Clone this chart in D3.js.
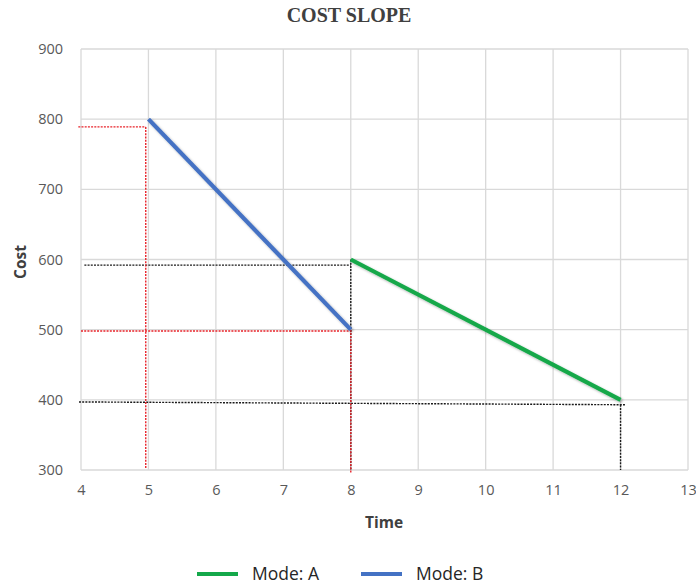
<!DOCTYPE html>
<html><head><meta charset="utf-8">
<script src="https://cdn.jsdelivr.net/npm/d3@7"></script>
<style>body{margin:0;background:#fff}svg{display:block}</style>
</head><body><svg id="c" width="696" height="588"></svg>
<script>
const xTicks = [4,5,6,7,8,9,10,11,12,13];
const yTicks = [300,400,500,600,700,800,900];
const modeATime = [8, 12];
const modeACost = [600, 400];
const modeBTime = [5, 8];
const modeBCost = [800, 500];
// guide segments: [x1, y1, x2, y2]
const redGuides = [[3.96,789,4.96,789],[4.96,789,4.96,303],[4,498,8,498],[8,500,8,295]];
const blackGuides = [[4.05,592,8,592],[8,600,8,300],[3.97,397,12.07,393],[12,393,12,300]];
const seriesNames = ["Mode: A","Mode: B"];
const seriesColors = ["#14a84a","#4472c4"];

const svg = d3.select("#c");
const x = d3.scaleLinear().domain([4,13]).range([81,688]);
const y = d3.scaleLinear().domain([300,900]).range([470,49]);
const font = "'Open Sans', 'Noto Sans', sans-serif";

// gridlines
svg.append("g").selectAll("line").data(xTicks).join("line")
  .attr("x1",d=>x(d)).attr("x2",d=>x(d)).attr("y1",y(300)).attr("y2",y(900))
  .attr("stroke","#d9d9d9").attr("stroke-width",1.3);
svg.append("g").selectAll("line").data(yTicks).join("line")
  .attr("x1",x(4)).attr("x2",x(13)).attr("y1",d=>y(d)).attr("y2",d=>y(d))
  .attr("stroke","#d9d9d9").attr("stroke-width",1.3);

// axes tick labels
const xa = svg.append("g").attr("transform",`translate(0,${y(300)})`)
  .call(d3.axisBottom(x).tickValues(xTicks).tickSize(0).tickPadding(15).tickFormat(d3.format("d")));
const ya = svg.append("g").attr("transform",`translate(${x(4)},0)`)
  .call(d3.axisLeft(y).tickValues(yTicks).tickSize(0).tickPadding(18).tickFormat(d3.format("d")));
[xa,ya].forEach(a=>{a.select(".domain").remove();
  a.selectAll("text").attr("font-family",font).attr("font-size",14.5).attr("fill","#595959");});

// guides
function guides(data,color){
  svg.append("g").selectAll("line").data(data).join("line")
    .attr("x1",d=>x(d[0])).attr("y1",d=>y(d[1])).attr("x2",d=>x(d[2])).attr("y2",d=>y(d[3]))
    .attr("stroke",color).attr("stroke-width",1.4).attr("stroke-dasharray","2,1.2");
}
guides(blackGuides,"#1a1a1a");
guides(redGuides,"#e8232a");

// shadow filter
const defs = svg.append("defs");
const f = defs.append("filter").attr("id","sh").attr("x","-20%").attr("y","-20%").attr("width","140%").attr("height","140%");
f.append("feDropShadow").attr("dx",1.5).attr("dy",1.5).attr("stdDeviation",1.2).attr("flood-color","#000").attr("flood-opacity",0.3);

const line = d3.line().x(d=>x(d[0])).y(d=>y(d[1]));
const series = [d3.zip(modeATime,modeACost), d3.zip(modeBTime,modeBCost)];
series.forEach((s,i)=>{
  svg.append("path").datum(s).attr("d",line).attr("fill","none")
    .attr("stroke",seriesColors[i]).attr("stroke-width",4.2).attr("filter","url(#sh)");
});

// title
svg.append("text").attr("x",349).attr("y",22).attr("text-anchor","middle")
  .attr("font-family","'Liberation Serif','DejaVu Serif',serif").attr("font-weight","bold")
  .attr("font-size",20).attr("fill","#404040").text("COST SLOPE");
// axis titles
svg.append("text").attr("transform","translate(26,262) rotate(-90)").attr("text-anchor","middle")
  .attr("font-family",font).attr("font-weight","bold").attr("font-size",15.5).attr("fill","#404040").text("Cost");
svg.append("text").attr("x",384).attr("y",528).attr("text-anchor","middle")
  .attr("font-family",font).attr("font-weight","bold").attr("font-size",15.5).attr("fill","#404040").text("Time");

// legend
const lg = svg.append("g");
const lx = [197,361];
seriesNames.forEach((n,i)=>{
  lg.append("line").attr("x1",lx[i]).attr("x2",lx[i]+41).attr("y1",574).attr("y2",574)
    .attr("stroke",seriesColors[i]).attr("stroke-width",4.2);
  lg.append("text").attr("x",lx[i]+55).attr("y",580).attr("font-family",font)
    .attr("font-size",17.5).attr("fill","#262626").text(n);
});
</script></body></html>
